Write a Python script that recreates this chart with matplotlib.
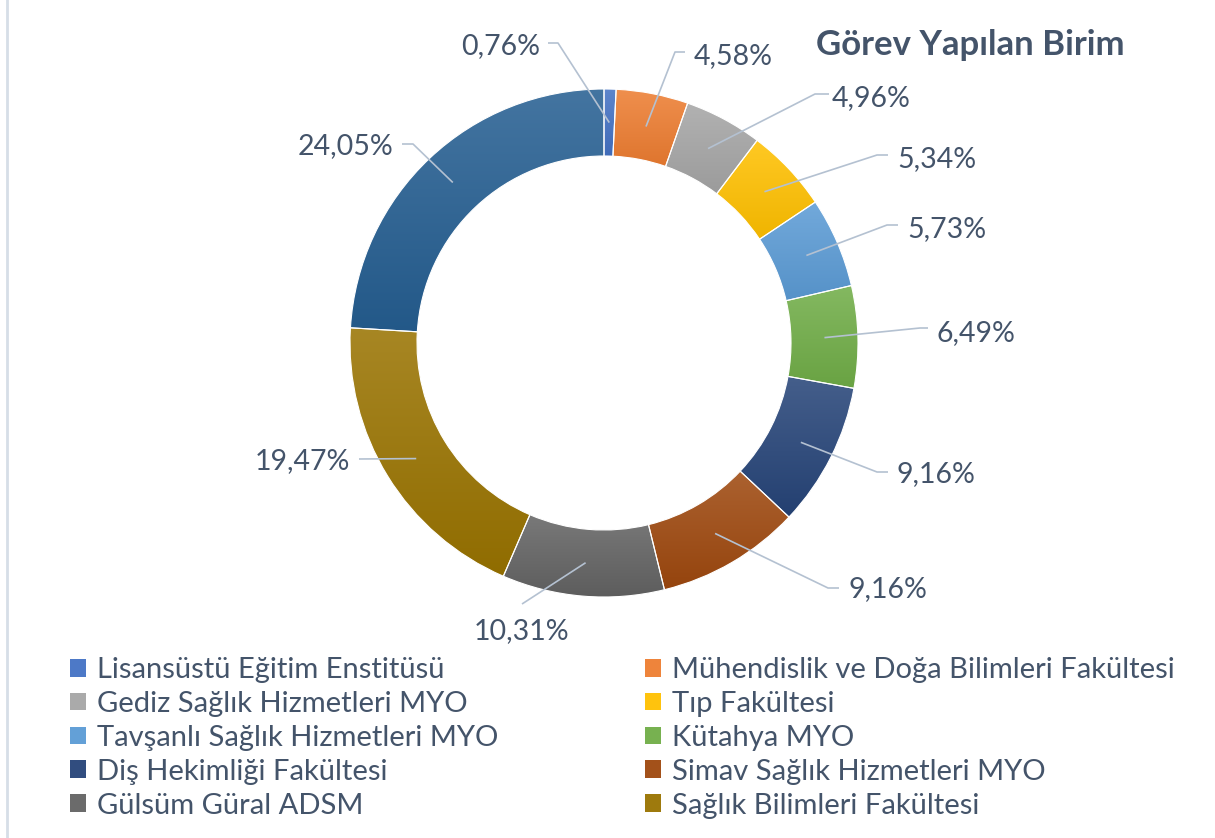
import numpy as np
import matplotlib
matplotlib.use("Agg")
import matplotlib.pyplot as plt
from matplotlib.colors import to_rgb, LinearSegmentedColormap
from matplotlib.patches import Patch

plt.rcParams['font.family'] = ['Lato', 'DejaVu Sans']

# ---- data ----
categories = [
    "Lisansüstü Eğitim Enstitüsü",
    "Mühendislik ve Doğa Bilimleri Fakültesi",
    "Gediz Sağlık Hizmetleri MYO",
    "Tıp Fakültesi",
    "Tavşanlı Sağlık Hizmetleri MYO",
    "Kütahya MYO",
    "Diş Hekimliği Fakültesi",
    "Simav Sağlık Hizmetleri MYO",
    "Gülsüm Güral ADSM",
    "Sağlık Bilimleri Fakültesi",
    "Diğer",
]
values = [0.76, 4.58, 4.96, 5.34, 5.73, 6.49, 9.16, 9.16, 10.31, 19.47, 24.05]
value_labels = ["0,76%", "4,58%", "4,96%", "5,34%", "5,73%", "6,49%",
                "9,16%", "9,16%", "10,31%", "19,47%", "24,05%"]
legend_count = 10
title = "Görev Yapılan Birim"

# ---- style ----
colors = ["#4472C4", "#ED7D31", "#A5A5A5", "#FFC000", "#5B9BD5", "#70AD47",
          "#264478", "#9E480E", "#636363", "#997300", "#255E91"]
text_color = "#44546A"
line_color = "#B4C1D1"

W, H = 1215, 838
fig = plt.figure(figsize=(W / 100, H / 100), dpi=100)
ax = fig.add_axes([0, 0, 1, 1])

cx, cy_px = 604, 343
R, ring = 254, 67
wedges, _ = ax.pie(values, startangle=90, counterclock=False, radius=R,
                   center=(cx, H - cy_px), colors=colors,
                   wedgeprops=dict(width=ring, linewidth=0.8, edgecolor="white",
                                   zorder=3))


def mix(c, t, k):
    c = np.array(to_rgb(c)); t = np.array(t)
    return tuple(c + (t - c) * k)


grad = np.linspace(0, 1, 256).reshape(-1, 1)
for w, c in zip(wedges, colors):
    top = mix(c, (1, 1, 1), 0.14)
    bot = mix(c, (0, 0, 0), 0.06)
    cmap = LinearSegmentedColormap.from_list("g", [top, bot])
    ext = w.get_path().get_extents()
    im = ax.imshow(grad, cmap=cmap, extent=(ext.x0, ext.x1, ext.y0, ext.y1),
                   origin="upper", aspect="auto", zorder=2, interpolation="bilinear")
    im.set_clip_path(w)
    w.set_facecolor("none")

# label placement (pixel coords): text x, text y, ha, elbow x, elbow y, stub end x
label_pos = [
    (540, 44, "right", 558, 43, 548),
    (694, 54, "left", 675, 52, 685),
    (832, 96, "left", 815, 94, 829),
    (897, 157, "left", 877, 155, 888),
    (907, 227, "left", 887, 225, 898),
    (937, 331, "left", 920, 328, 928),
    (897, 472, "left", 877, 472, 888),
    (848, 587, "left", 828, 588, 839),
    (522, 629, "center", 522, 604, 522),
    (350, 459, "right", 359, 459, 359),
    (393, 144, "right", 413, 144, 402),
]
rmid = R - ring / 2
for w, lab, (tx, ty, ha, ex, ey, sx) in zip(wedges, value_labels, label_pos):
    ang = np.deg2rad((w.theta1 + w.theta2) / 2)
    x0 = w.center[0] + rmid * np.cos(ang)
    y0 = w.center[1] + rmid * np.sin(ang)
    ax.plot([x0, ex, sx], [y0, H - ey, H - ey], color=line_color, lw=1.2,
            zorder=4, solid_capstyle="butt")
    ax.text(tx, H - ty, lab, ha=ha, va="center_baseline", fontsize=20.5,
            color=text_color, zorder=5)

ax.text(1125, H - 42, title, ha="right", va="center_baseline", fontsize=25,
        fontweight="bold", color=text_color)

# left border
ax.plot([6.5, 6.5], [0, H], color="#D6DEE7", lw=2)

ax.set_xlim(0, W)
ax.set_ylim(0, H)
ax.set_aspect("equal")
ax.axis("off")

handles = [Patch(facecolor=mix(c, (1, 1, 1), 0.05), edgecolor="none") for c in colors[:legend_count]]
left_idx = list(range(0, legend_count, 2))
right_idx = list(range(1, legend_count, 2))
common = dict(loc="upper left", frameon=False, fontsize=21, borderpad=0,
              borderaxespad=0, handlelength=0.56, handleheight=0.56,
              handletextpad=0.38, labelspacing=0.27, labelcolor=text_color)
leg1 = ax.legend([handles[i] for i in left_idx], [categories[i] for i in left_idx],
                 bbox_to_anchor=(70 / W, 1 - 657 / H), bbox_transform=fig.transFigure, **common)
ax.add_artist(leg1)
leg2 = ax.legend([handles[i] for i in right_idx], [categories[i] for i in right_idx],
                 bbox_to_anchor=(645 / W, 1 - 657 / H), bbox_transform=fig.transFigure, **common)

fig.savefig("out.png", dpi=100)
